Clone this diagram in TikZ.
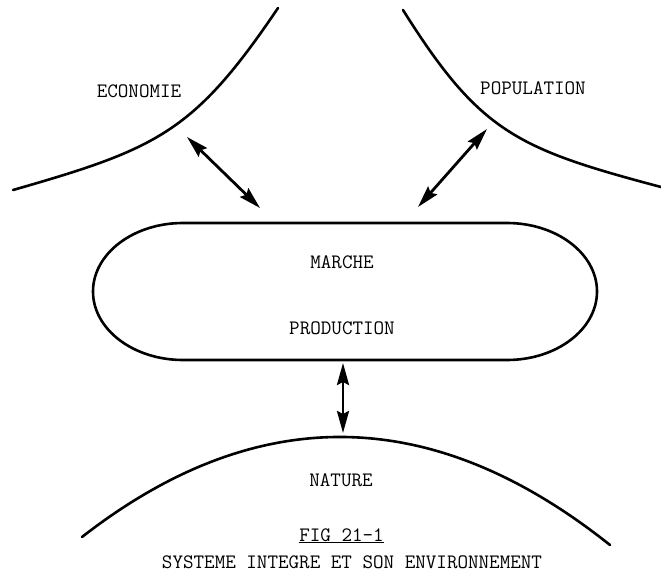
\documentclass[tikz,border=0pt]{standalone}
\usepackage{fontspec}
\usetikzlibrary{arrows.meta}
\begin{document}
\begin{tikzpicture}[x=1pt,y=-1pt,
  boundary/.style={line width=2.6pt, line cap=round},
  link/.style={line width=2.8pt,
    {Stealth[length=22pt,width=12pt,inset=3pt]}-{Stealth[length=22pt,width=12pt,inset=3pt]}},
  lbl/.style={font=\fontsize{20.5}{24}\selectfont\ttfamily, inner sep=0pt}]
\useasboundingbox (0,0) rectangle (661,578);

% surrounding domains
\draw[boundary] (13,190) .. controls (157.2,148.7) and (194.1,132.4) .. (278,8);
\draw[boundary] (661,187) .. controls (516.8,148.7) and (479.9,132.4) .. (403,10);
\draw[boundary] (82,537) .. controls (256.7,401) and (432.7,403.7) .. (610,545);

% central system (stadium outline)
\draw[boundary] (183,223) -- (507,223)
  arc[start angle=-90, end angle=90, x radius=90, y radius=68.5]
  -- (183,360)
  arc[start angle=90, end angle=270, x radius=90, y radius=68.5] -- cycle;

% labels
\node[lbl] (econ) at (139,91) {ECONOMIE};
\node[lbl] (pop) at (533,88) {POPULATION};
\node[lbl] (mkt) at (342,262) {MARCHE};
\node[lbl] (prod) at (342,328) {PRODUCTION};
\node[lbl] (nat) at (341,480) {NATURE};
\node[lbl, anchor=base] (fig) at (341.5,541) {\underline{FIG 21-1}};
\node[lbl, anchor=base] (caption) at (352,568) {SYSTEME INTEGRE ET SON ENVIRONNEMENT};

% exchange arrows
\coordinate (econ-edge) at (187,137);
\coordinate (sys-nw) at (260,208);
\coordinate (pop-edge) at (487,129);
\coordinate (sys-ne) at (418,207);
\coordinate (sys-s) at (343,363);
\coordinate (nat-edge) at (343,433);
\draw[link] (econ-edge) -- (sys-nw);
\draw[link] (pop-edge) -- (sys-ne);
\draw[link] (sys-s) -- (nat-edge);
\end{tikzpicture}
\end{document}
